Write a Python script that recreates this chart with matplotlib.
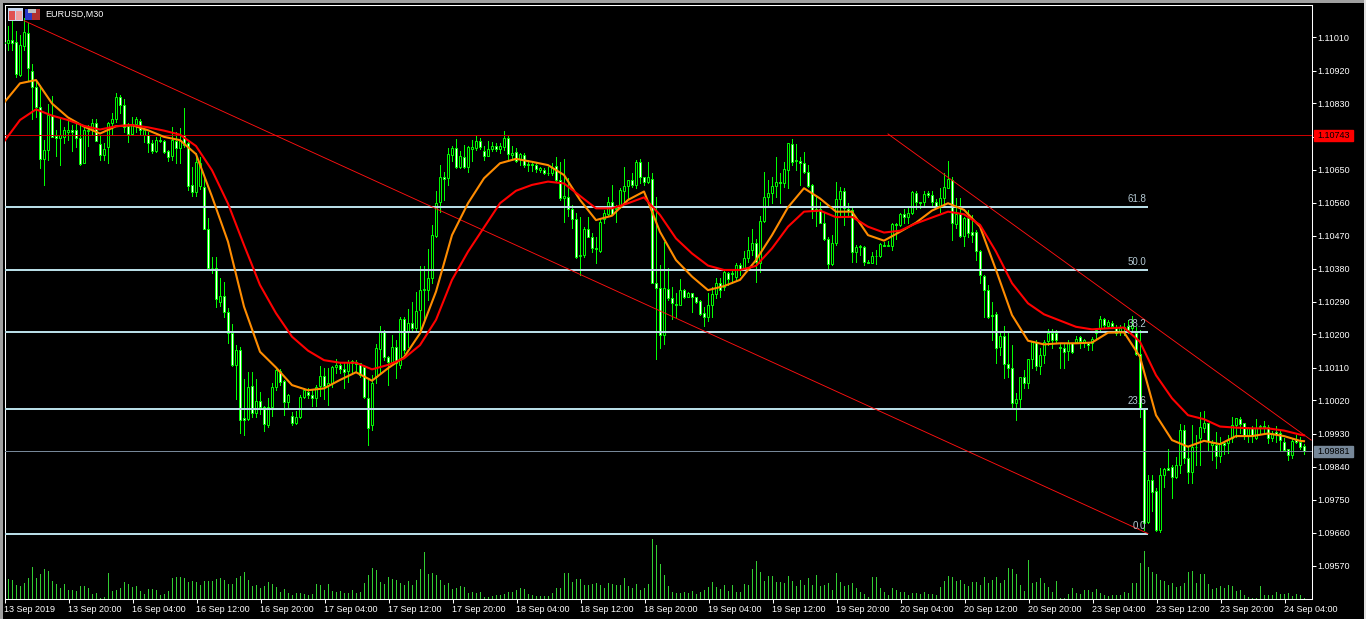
import matplotlib
matplotlib.use("Agg")
import matplotlib.pyplot as plt
from matplotlib.patches import Rectangle

# prices are stored as points above 1.09000
highs = [2003,2041,2056,2028,2017,2062,2050,1939,1889,1880,
1730,1828,1850,1757,1794,1767,1783,1771,1780,1771,
1767,1771,1789,1789,1744,1721,1780,1803,1860,1853,
1842,1776,1792,1792,1789,1757,1753,1730,1739,1739,
1730,1703,1767,1753,1762,1819,1726,1657,1694,1685,
1630,1517,1412,1412,1353,1344,1271,1228,1171,1165,
1078,1098,1098,1080,1044,1005,1028,1068,1105,1105,
1076,1039,989,991,1035,1053,1053,1048,1062,1114,
1108,1108,1114,1132,1126,1126,1130,1130,1130,1121,
1117,1076,1090,1174,1223,1212,1140,1199,1185,1247,
1247,1269,1290,1317,1387,1387,1432,1499,1592,1662,
1644,1710,1714,1732,1701,1717,1714,1730,1742,1735,
1714,1729,1726,1721,1721,1755,1741,1714,1708,1696,
1694,1676,1674,1667,1658,1653,1658,1667,1683,1671,
1680,1626,1553,1530,1521,1492,1520,1476,1467,1517,
1540,1574,1608,1553,1599,1656,1621,1640,1676,1680,
1630,1671,1640,1576,1390,1453,1380,1330,1312,1350,
1323,1317,1312,1303,1294,1276,1312,1330,1353,1353,
1374,1371,1379,1394,1394,1429,1465,1487,1460,1523,
1644,1621,1629,1683,1640,1671,1721,1732,1720,1685,
1697,1662,1610,1580,1562,1530,1467,1471,1615,1603,
1599,1558,1544,1444,1444,1440,1403,1426,1430,1449,
1453,1456,1503,1503,1530,1541,1544,1592,1590,1562,
1592,1592,1590,1569,1599,1641,1672,1629,1571,1571,
1521,1540,1526,1485,1430,1362,1335,1290,1262,1203,
1223,1203,1171,1040,1085,1103,1132,1180,1185,1162,
1185,1214,1214,1212,1176,1176,1185,1176,1196,1196,
1189,1180,1194,1219,1250,1244,1239,1238,1226,1226,
1232,1239,1250,1221,1212,999,817,817,780,835,
835,888,844,867,955,953,894,953,926,989,
992,958,912,935,921,908,926,976,971,976,
959,949,950,969,953,965,953,938,950,938,
919,889,914,926,921,901]
lows = [1921,1976,1976,1901,1905,1976,1894,1787,1794,1653,
1607,1676,1739,1687,1662,1721,1730,1701,1712,1662,
1667,1714,1747,1728,1677,1677,1667,1748,1780,1803,
1753,1726,1747,1753,1748,1726,1698,1696,1698,1726,
1696,1674,1677,1667,1668,1712,1594,1577,1577,1598,
1487,1380,1367,1276,1278,1248,1178,1114,1023,930,
926,967,976,974,983,938,948,978,1048,1062,
980,1001,953,957,971,1028,1026,1005,1005,1032,
1023,1008,1056,1094,1094,1053,1071,1099,1099,1085,
1026,899,940,1067,1094,1130,1062,1126,1082,1108,
1149,1167,1208,1212,1212,1235,1294,1340,1467,1535,
1567,1608,1674,1653,1653,1653,1644,1674,1703,1705,
1676,1687,1701,1701,1694,1703,1680,1676,1671,1662,
1658,1647,1647,1644,1644,1638,1635,1635,1617,1567,
1508,1523,1490,1408,1362,1412,1467,1426,1396,1426,
1505,1526,1526,1508,1544,1562,1571,1603,1599,1612,
1608,1612,1340,1132,1162,1174,1294,1241,1249,1280,
1299,1301,1262,1285,1253,1223,1238,1247,1299,1303,
1321,1335,1340,1349,1362,1376,1399,1417,1344,1371,
1508,1553,1558,1576,1558,1603,1599,1662,1649,1608,
1640,1603,1517,1496,1503,1458,1380,1390,1444,1521,
1499,1521,1399,1399,1417,1390,1394,1394,1392,1410,
1440,1440,1430,1460,1496,1505,1503,1529,1541,1544,
1553,1576,1553,1544,1535,1553,1599,1458,1490,1467,
1441,1467,1453,1403,1340,1249,1244,1185,1123,1144,
1081,1085,1003,967,1003,1053,1053,1108,1103,1092,
1121,1171,1162,1176,1108,1108,1130,1149,1176,1162,
1167,1158,1158,1189,1210,1221,1217,1217,1199,1199,
1199,1203,1208,1144,976,667,685,719,665,662,
785,830,755,808,823,849,794,794,844,844,
935,883,858,835,853,874,878,908,921,930,
914,908,908,914,930,932,905,910,908,885,
883,859,864,903,889,874]
body_top = [1998,2003,2003,1998,1989,2024,2021,1918,1874,1821,
1703,1798,1798,1741,1744,1757,1757,1759,1759,1737,
1757,1759,1778,1776,1719,1707,1778,1787,1848,1848,
1827,1768,1774,1787,1783,1757,1744,1721,1730,1730,
1728,1700,1730,1728,1730,1744,1721,1607,1670,1669,
1603,1487,1382,1380,1305,1305,1262,1205,1159,1159,
971,1057,1059,1019,1019,1001,1003,1057,1103,1101,
1074,1036,977,974,1030,1048,1044,1034,1057,1087,
1088,1067,1112,1117,1117,1105,1126,1127,1124,1121,
1112,1028,1067,1162,1210,1210,1138,1167,1167,1241,
1241,1230,1230,1265,1320,1323,1353,1470,1560,1629,
1629,1691,1708,1708,1687,1685,1712,1712,1729,1729,
1701,1707,1714,1715,1715,1735,1735,1696,1697,1692,
1690,1665,1665,1662,1653,1649,1641,1653,1660,1621,
1578,1576,1541,1514,1418,1487,1487,1467,1435,1508,
1532,1560,1560,1544,1594,1605,1621,1621,1670,1670,
1629,1630,1624,1340,1326,1328,1323,1300,1283,1321,
1320,1312,1312,1301,1291,1258,1280,1310,1340,1340,
1370,1367,1367,1389,1389,1408,1430,1449,1449,1509,
1576,1585,1605,1615,1615,1650,1721,1720,1675,1674,
1667,1644,1608,1541,1541,1505,1460,1449,1570,1591,
1591,1541,1540,1438,1440,1438,1398,1414,1415,1447,
1444,1444,1501,1501,1528,1528,1530,1589,1587,1560,
1582,1585,1580,1560,1571,1601,1623,1621,1529,1529,
1517,1517,1480,1479,1429,1360,1320,1253,1255,1196,
1196,1119,1108,1023,1083,1083,1132,1180,1180,1144,
1180,1203,1203,1203,1167,1164,1176,1176,1187,1192,
1185,1176,1189,1212,1241,1241,1235,1232,1217,1217,
1221,1223,1226,1205,1146,997,803,803,774,817,
833,835,839,844,939,939,862,894,894,947,
959,958,903,899,903,903,912,953,971,969,
958,944,944,944,950,950,949,930,935,932,
908,887,910,912,908,897]
body_bot = [1994,1996,1996,1910,1907,1987,1927,1874,1821,1680,
1680,1703,1739,1737,1737,1739,1753,1753,1737,1665,
1667,1756,1757,1728,1689,1689,1712,1778,1787,1826,
1767,1748,1748,1774,1759,1744,1721,1701,1701,1727,
1698,1683,1687,1710,1710,1717,1606,1589,1589,1605,
1489,1382,1380,1296,1289,1262,1203,1116,1117,968,
968,970,985,985,1003,955,953,1003,1057,1071,
1017,1017,959,959,976,1030,1034,1028,1028,1059,
1059,1061,1068,1110,1105,1099,1101,1121,1120,1090,
1029,945,953,1085,1160,1138,1126,1126,1123,1116,
1158,1210,1217,1217,1267,1320,1321,1353,1470,1560,
1625,1626,1690,1658,1658,1656,1656,1707,1708,1712,
1688,1688,1706,1707,1706,1712,1691,1690,1674,1680,
1662,1663,1662,1652,1649,1640,1640,1640,1621,1571,
1571,1541,1514,1412,1414,1417,1467,1435,1432,1429,
1514,1529,1529,1541,1550,1590,1605,1607,1607,1629,
1617,1617,1340,1326,1199,1199,1300,1285,1280,1280,
1303,1303,1301,1290,1256,1249,1249,1280,1310,1321,
1330,1351,1365,1356,1378,1378,1408,1430,1399,1394,
1509,1576,1585,1605,1612,1612,1650,1671,1672,1667,
1644,1606,1540,1538,1505,1460,1392,1392,1449,1570,
1544,1538,1426,1426,1438,1399,1395,1396,1413,1414,
1442,1442,1440,1499,1499,1520,1520,1530,1560,1558,
1560,1580,1561,1550,1549,1571,1600,1503,1501,1470,
1470,1476,1471,1429,1362,1320,1249,1250,1162,1165,
1119,1108,1014,1014,1023,1069,1069,1132,1115,1115,
1144,1183,1185,1185,1162,1153,1156,1153,1180,1183,
1176,1171,1176,1203,1219,1226,1223,1223,1203,1210,
1217,1212,1217,1146,999,687,689,771,667,667,
817,830,812,812,844,862,826,826,892,917,
944,910,900,870,870,900,903,917,953,956,
923,923,923,917,947,949,917,919,929,912,
885,871,871,908,894,881]
direction = ("SBSSBBSSSS" "BBSSBBBSSS" "BBBSSBBBBS" "SSBBSBSSBS" "SSBSBSSSBB"
             "SSSSBSSSBS" "SBSBSSBBBS" "SBSBBBSSBB" "SBBBSSBBSS" "SSBBBSSBSB"
             "SBSBBBBBBB" "SBBSBSBBBS" "SBBSBBSBSB" "SSSSBSSBSS" "BSSSBBSSSB"
             "BBSBBBBSBS" "SBSSSBSSSB" "SBSSSSBBBS" "BSSBSBBBSB" "BBBBSBBSBS"
             "SSSSSSSBBB" "SSSBBSSBSB" "SBBSBSBBSS" "BSSSBBBSBS" "BSSSSSSSSB"
             "SSSBBSBBSB" "BBSSSSBSBS" "BSBBBSBSSB" "BSBSSSBSSB" "BSSBBSSBSB"
             "BSBSBSBBBS" "SBSBBSSBSS" "SSBSSS")

volumes = [13,58,55,40,37,47,63,94,61,73,88,82,52,45,33,45,27,27,22,37,
39,31,15,18,3,4,78,22,25,33,49,43,34,37,22,13,28,30,25,10,
15,22,61,64,64,61,49,52,49,40,52,52,52,58,61,55,43,43,63,67,
79,55,37,40,33,37,49,43,34,19,28,16,10,16,16,13,10,13,43,40,
25,43,22,19,22,16,16,25,16,19,46,70,91,85,49,43,64,58,55,46,
40,52,40,55,88,139,73,76,70,55,40,46,28,31,37,34,16,19,16,19,
4,6,7,10,10,13,19,19,25,31,28,13,10,7,7,7,7,16,31,31,
76,76,49,58,58,40,40,43,46,40,31,46,43,40,40,61,37,31,43,25,
31,43,178,160,103,70,37,19,16,16,19,16,22,13,19,25,34,49,34,28,
40,22,40,19,19,43,40,88,112,79,52,67,67,49,49,46,67,52,37,55,
40,61,40,70,37,40,46,25,76,49,37,40,46,31,19,13,4,64,64,31,
19,10,31,25,19,19,10,16,16,13,19,13,13,10,34,52,67,64,52,55,
43,37,49,49,40,64,46,55,64,46,55,91,88,73,42,24,117,48,49,63,
48,34,21,54,1,1,15,33,18,15,27,27,21,30,18,12,9,12,12,12,
21,18,48,48,108,144,94,81,75,57,54,42,48,36,39,48,81,84,48,75,
75,45,30,33,39,33,42,39,24,27,12,6,3,3,39,12,12,12,21,15,
15,18,9,15,12,3]

ma_bars = list(range(0, 325, 4)) + [325]
ma_fast = [1832,1885,1894,1830,1792,1767,1748,1768,1771,1757,1739,1730,1692,1576,1453,1276,
1153,1110,1062,1048,1053,1076,1097,1074,1108,1138,1203,1317,1471,1558,1626,1667,1679,1671,
1662,1635,1567,1512,1524,1567,1590,1480,1403,1358,1321,1332,1349,1403,1471,1547,1599,1571,
1535,1535,1471,1456,1480,1505,1538,1558,1540,1494,1376,1253,1183,1173,1176,1176,1178,1205,
1206,1139,980,912,894,910,901,923,923,930,923,910,909]
ma_slow = [1726,1785,1814,1797,1785,1769,1759,1768,1771,1765,1756,1745,1714,1648,1557,1444,
1335,1258,1194,1156,1130,1123,1123,1105,1117,1135,1171,1240,1349,1426,1492,1558,1592,1608,
1617,1612,1578,1544,1544,1558,1574,1526,1462,1421,1388,1376,1376,1387,1435,1494,1535,1538,
1520,1521,1494,1478,1483,1503,1519,1535,1528,1499,1426,1340,1285,1255,1238,1221,1214,1217,
1219,1180,1089,1026,980,969,949,946,944,944,938,927,925]

fib_levels = [657, 997, 1207, 1377, 1548]
fib_labels = ["0.0", "23.6", "38.2", "50.0", "61.8"]
last_price = 881
ref_price = 1743
trend_a_bars, trend_a = [5, 286], [2056, 657]
trend_b_bars, trend_b = [221, 326.8], [1747, 912]

y_ticks = [1.11010, 1.10920, 1.10830, 1.10740, 1.10650, 1.10560, 1.10470, 1.10380, 1.10290,
           1.10200, 1.10110, 1.10020, 1.09930, 1.09840, 1.09750, 1.09660, 1.09570]
x_labels = ["13 Sep 2019", "13 Sep 20:00", "16 Sep 04:00", "16 Sep 12:00", "16 Sep 20:00",
            "17 Sep 04:00", "17 Sep 12:00", "17 Sep 20:00", "18 Sep 04:00", "18 Sep 12:00",
            "18 Sep 20:00", "19 Sep 04:00", "19 Sep 12:00", "19 Sep 20:00", "20 Sep 04:00",
            "20 Sep 12:00", "20 Sep 20:00", "23 Sep 04:00", "23 Sep 12:00", "23 Sep 20:00",
            "24 Sep 04:00"]
x_tick_step = 16


def px(p):
    return 1.09 + p * 1e-5


W, H = 1366, 619
plt.rcParams["font.family"] = ["Liberation Sans", "DejaVu Sans"]
fig = plt.figure(figsize=(W / 100, H / 100), dpi=100, facecolor="black")
L, R, T, B = 4.5, 1311.5, 4.5, 598.5

vax = fig.add_axes([L / W, 1 - B / H, (R - L) / W, (B - T) / H], facecolor="black")
ax = fig.add_axes([L / W, 1 - B / H, (R - L) / W, (B - T) / H], facecolor="none")
for a in (ax, vax):
    # four pixels per bar, with bar centres off the half-pixel so snapping is stable
    a.set_xlim(0.125, 0.125 + (R - L) / 4)
ax.set_ylim(px(480), px(2100))
vax.set_ylim(0, 1782)
vax.axis("off")

THIN = 0.6
n = len(highs)
idx = list(range(n))
vax.vlines(idx, 0, volumes, color="#32CD32", lw=THIN, antialiased=False, snap=True)

ax.vlines(idx, [px(v) for v in lows], [px(v) for v in highs], color="#00FF00", lw=THIN,
          antialiased=False, snap=True, zorder=2)
faces = ["black" if d == "B" else "white" for d in direction]
ax.bar(idx, [(t - b) * 1e-5 for t, b in zip(body_top, body_bot)], bottom=[px(v) for v in body_bot],
       width=0.5, color=faces, edgecolor="#00FF00", lw=0.7, zorder=3)

for lev, lab in zip(fib_levels, fib_labels):
    ax.plot([0, 286], [px(lev)] * 2, color="#B8DDE6", lw=1.45, zorder=3.5, solid_capstyle="butt")
    ax.text(285.6, px(lev) + 0.00008, lab, color="#B4C8D2", fontsize=7, ha="right", va="bottom", zorder=6)

ax.axhline(px(ref_price), color="#CC0000", lw=THIN, antialiased=False, zorder=3.4)
ax.axhline(px(last_price), color="#778899", lw=THIN, antialiased=False, zorder=3.4)
ax.plot(trend_a_bars, [px(v) for v in trend_a], color="#FF1010", lw=0.65, zorder=3.6)
ax.plot(trend_b_bars, [px(v) for v in trend_b], color="#FF1010", lw=0.65, zorder=3.6)

ax.plot(ma_bars, [px(v) for v in ma_fast], color="#FF8C00", lw=1.5, zorder=4)
ax.plot(ma_bars, [px(v) for v in ma_slow], color="#FF0000", lw=1.5, zorder=4.1)

for s in ("top", "right", "left", "bottom"):
    ax.spines[s].set_color("white")
    ax.spines[s].set_linewidth(0.75)
ax.yaxis.tick_right()
ax.set_yticks(y_ticks)
ax.set_yticklabels([f"{v:.5f}" for v in y_ticks])
ax.set_xticks([0.125 + i * x_tick_step for i in range(len(x_labels))])
ax.set_xticklabels(x_labels, ha="left")
ax.tick_params(axis="y", colors="white", length=3.2, width=0.75, pad=1, labelsize=6.5)
ax.tick_params(axis="x", colors="white", length=3.2, width=0.75, pad=1.2, labelsize=6.5)

# current-price boxes on the scale
for p, col in ((ref_price, "#FF0000"), (last_price, "#778899")):
    ax.annotate(f"{px(p):.5f}", xy=(1, px(p)), xycoords=("axes fraction", "data"),
                xytext=(6, 0), textcoords="offset pixels", color="black", fontsize=6.5,
                va="center", ha="left", zorder=8, annotation_clip=False)
    ax.add_artist(Rectangle((1 + 2.5 / (R - L), px(p) - 5.5 * 2.727e-5), 39 / (R - L), 11 * 2.727e-5,
                            transform=ax.get_yaxis_transform(), color=col, clip_on=False, zorder=7))


def box(x0, y0, x1, y1, col, zo=10):
    fig.add_artist(Rectangle((x0 / W, 1 - y1 / H), (x1 - x0) / W, (y1 - y0) / H, transform=fig.transFigure,
                             facecolor=col, edgecolor="none", zorder=zo))


# window frame
box(0, 0, W, 3, "#A0A0A0")
box(0, 0, 3, H, "#A0A0A0")
box(W - 2, 0, W, H, "#E0E0E0")

# title icons and symbol caption
box(8, 8, 23, 21, "#C8D8F0")
box(9, 11, 15, 20, "#E05050")
box(16, 11, 22, 20, "#F0A0A0")
box(25, 9, 32, 20, "#2838C8")
box(32, 9, 40, 20, "#B03030")
box(28, 9, 36, 13, "#C0C0C0")
fig.text(45.5 / W, 1 - 14.5 / H, "EURUSD,M30", color="white", fontsize=6.5, va="center", ha="left", zorder=11)

fig.savefig("out.png", dpi=100, facecolor="black")
